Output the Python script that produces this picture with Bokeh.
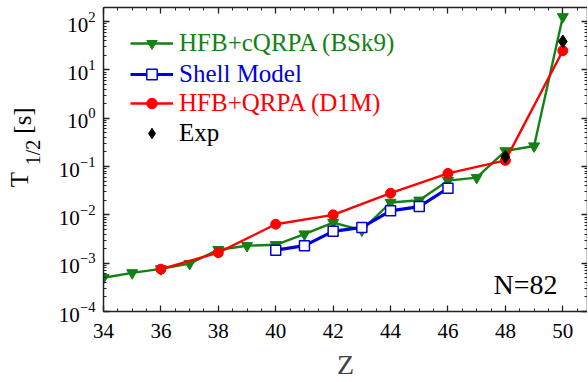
import numpy as np
from bokeh.plotting import figure
from bokeh.layouts import row
from bokeh.models import (Range1d, LinearAxis, LogAxis, FixedTicker, Legend,
                          LegendItem, Label, LogTickFormatter,
                          CustomJSTickFormatter)
from bokeh.core.properties import value
from bokeh.embed import file_html
from bokeh.resources import INLINE

# ---------------- data ----------------
z_cqrpa = [34, 35, 36, 37, 38, 39, 40, 41, 42, 43, 44, 45, 46, 47, 48, 49, 50]
t_cqrpa = [5.0e-4, 6.3e-4, 7.6e-4, 9.8e-4, 1.9e-3, 2.3e-3, 2.4e-3, 4.0e-3, 6.9e-3,
           4.8e-3, 1.8e-2, 2.0e-2, 5.1e-2, 5.9e-2, 0.21, 0.265, 125.0]

z_sm = [40, 41, 42, 43, 44, 45, 46]
t_sm = [1.86e-3, 2.3e-3, 4.55e-3, 5.5e-3, 1.21e-2, 1.48e-2, 3.55e-2]

z_qrpa = [36, 38, 40, 42, 44, 46, 48, 50]
t_qrpa = [7.5e-4, 1.65e-3, 6.4e-3, 1.0e-2, 2.8e-2, 7.2e-2, 0.134, 24.9]

z_exp = [48, 50]
t_exp = [0.159, 38.7]

x_ticks = [34, 36, 38, 40, 42, 44, 46, 48, 50]
y_ticks = [1e-4, 1e-3, 1e-2, 1e-1, 1e0, 1e1, 1e2]

labels = ["HFB+cQRPA (BSk9)", "Shell Model", "HFB+QRPA (D1M)", "Exp"]
y_title_main = ["T", "[s]"]
y_title_sub = ["1/2"]

# ---------------- style ----------------
FONT = "Liberation Serif"
GREEN = "#128212"
BLUE = "#0000dd"
RED = "#ff0000"
AX = "#222222"
H = 382
TOP, BOT = 7, 71          # borders above / below the plotting frame
TW = 48                   # width of the strip that carries the y-axis title

# strip on the left for the y title (with its subscript); data units = page px
t = figure(width=TW, height=H, x_range=Range1d(0, TW),
           y_range=Range1d(H - BOT, TOP),
           output_backend="svg", toolbar_location=None,
           x_axis_location=None, y_axis_location=None,
           min_border_left=0, min_border_right=0, min_border_top=TOP,
           min_border_bottom=BOT)
t.outline_line_color = None
t.xgrid.visible = False
t.ygrid.visible = False
t.text(x=[19, 22], y=[179, 120], text=y_title_main, angle=np.pi / 2,
       text_font=value(FONT), text_font_size="25px",
       text_baseline="middle", text_align="center", text_color="black")
t.text(x=[32], y=[152], text=y_title_sub, angle=np.pi / 2,
       text_font=value(FONT), text_font_size="20px",
       text_baseline="middle", text_align="center", text_color="black")

p = figure(width=587 - TW, height=H,
           x_range=Range1d(34, 50.86), y_range=Range1d(1e-4, 10 ** 2.29),
           y_axis_type="log", output_backend="svg", toolbar_location=None,
           min_border_left=103 - TW, min_border_right=0, min_border_top=TOP,
           min_border_bottom=BOT)
p.outline_line_color = None
p.xgrid.visible = False
p.ygrid.visible = False
p.background_fill_color = "white"

x_minor = list(np.arange(34, 51.01, 0.5))
y_minor = [m * 10.0 ** e for e in range(-4, 3) for m in range(2, 10)]


def style(ax):
    ax.major_tick_in = 6
    ax.major_tick_out = 0
    ax.minor_tick_in = 3
    ax.minor_tick_out = 0
    ax.axis_line_width = 1.5
    ax.axis_line_color = AX
    ax.major_tick_line_color = AX
    ax.minor_tick_line_color = AX
    ax.major_tick_line_width = 1.3
    ax.minor_tick_line_width = 1
    ax.major_label_text_font = FONT
    ax.major_label_text_font_size = "21px"
    ax.major_label_text_color = "black"


xax = p.xaxis[0]
xax.ticker = FixedTicker(ticks=x_ticks, minor_ticks=x_minor)
style(xax)
xax.major_label_standoff = 12
xax.axis_label = "Z"
xax.axis_label_text_font = FONT
xax.axis_label_text_font_size = "28px"
xax.axis_label_text_font_style = "normal"
xax.axis_label_standoff = 8

yax = p.yaxis[0]
yax.ticker = FixedTicker(ticks=y_ticks, minor_ticks=y_minor)
yax.formatter = LogTickFormatter()
style(yax)
yax.major_label_standoff = 8

blank = CustomJSTickFormatter(code="return ''")
top = LinearAxis(ticker=FixedTicker(ticks=x_ticks, minor_ticks=x_minor),
                 formatter=blank)
style(top)
top.major_label_standoff = 0
p.add_layout(top, "above")
right = LogAxis(ticker=FixedTicker(ticks=y_ticks, minor_ticks=y_minor),
                formatter=blank)
style(right)
right.major_label_standoff = 0
p.add_layout(right, "right")

# ---------------- series ----------------
l1 = p.line(z_cqrpa, t_cqrpa, line_color=GREEN, line_width=2.4)
s1 = p.scatter(z_cqrpa, t_cqrpa, marker="inverted_triangle", size=11,
               fill_color=GREEN, line_color=GREEN)
l2 = p.line(z_sm, t_sm, line_color=BLUE, line_width=3.2)
s2 = p.scatter(z_sm, t_sm, marker="square", size=10, fill_color="white",
               line_color=BLUE, line_width=1.5)
l3 = p.line(z_qrpa, t_qrpa, line_color=RED, line_width=2.4)
s3 = p.scatter(z_qrpa, t_qrpa, marker="circle", size=10, fill_color=RED,
               line_color=RED)
s4 = p.scatter(z_exp, t_exp, marker="diamond", size=13,
               fill_color="black", line_color="black")

# ---------------- legends (one per entry so each text has its colour) ----
entries = [([l1, s1], GREEN), ([l2, s2], BLUE), ([l3, s3], RED), ([s4], "black")]
row_y = [268, 237, 208, 178]   # screen px from frame bottom (row centres)
for (rends, col), lab, ry in zip(entries, labels, row_y):
    leg = Legend(items=[LegendItem(label=lab, renderers=rends)],
                 location=(27, ry - 14), padding=0, margin=0, spacing=0,
                 glyph_width=43, glyph_height=26, label_height=20,
                 label_standoff=6, border_line_color=None,
                 background_fill_alpha=0,
                 label_text_font=FONT, label_text_font_size="25px",
                 label_text_color=col, label_text_baseline="middle")
    p.add_layout(leg)

p.add_layout(Label(x=390, y=27, x_units="screen", y_units="screen",
                   text="N=82", text_font=FONT, text_font_size="28px",
                   text_color="black", text_baseline="alphabetic"))

layout = row(t, p)
open("out.html", "w").write(file_html(layout, INLINE))
